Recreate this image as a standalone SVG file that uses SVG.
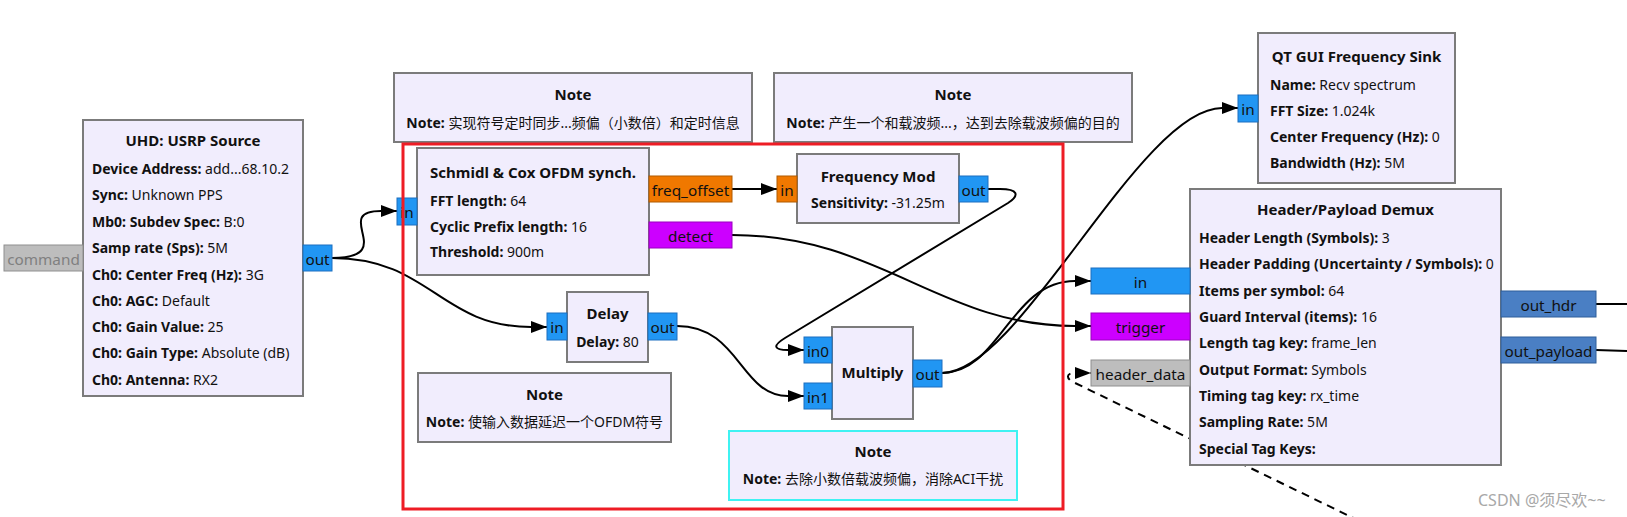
<svg xmlns="http://www.w3.org/2000/svg" width="1627" height="517" viewBox="0 0 1627 517">
<style>
.blk{fill:#F1EDFD;stroke:#7B7B7B;stroke-width:2}
.t{font-family:"Noto Sans","Noto Sans CJK SC",sans-serif;font-size:14px;fill:#111}
.ttl{font-weight:bold;font-size:15px;text-anchor:middle}
.mid{text-anchor:middle}
.b{font-weight:bold}
.pt{font-family:"Noto Sans",sans-serif;font-size:15.3px;fill:#111;text-anchor:middle}
.pc{fill:#2196F3;stroke:#1C6FC0;stroke-width:1}
.pf{fill:#F07800;stroke:#B05A00;stroke-width:1}
.pb{fill:#CC00FF;stroke:#9A00C0;stroke-width:1}
.pm{fill:#BDBDBD;stroke:#8F8F8F;stroke-width:1}
.ps{fill:#4A7FC4;stroke:#2F5F9A;stroke-width:1}
.wire{fill:none;stroke:#000;stroke-width:2}
.dash{stroke-dasharray:8,6}
</style>
<defs>
<marker id="arr" markerWidth="17" markerHeight="12" refX="16" refY="6" orient="auto" markerUnits="userSpaceOnUse">
<path d="M0,0 L16,6 L0,12 z" fill="#000" stroke="none"/>
</marker>
</defs>

<g id="connectors">
<path class="wire" d="M332,258 C400,258 330,211 381,211 L397,211" marker-end="url(#arr)"/>
<path class="wire" d="M332,258 C430,258 440,327 531,327 L547,327" marker-end="url(#arr)"/>
<path class="wire" d="M732,189 L777,189" marker-end="url(#arr)"/>
<path class="wire" d="M732,235 C880,235 940,326 1075,326 L1091,326" marker-end="url(#arr)"/>
<path class="wire" d="M988,189 L1000,189 C1018,189 1020,195 1008,203 L785,338 C772,346 774,350 788,350 L804,350" marker-end="url(#arr)"/>
<path class="wire" d="M677,326 C740,326 740,396 788,396 L804,396" marker-end="url(#arr)"/>
<path class="wire" d="M942,373 C1000,373 1010,281 1075,281 L1091,281" marker-end="url(#arr)"/>
<path class="wire" d="M942,373 C1020,373 1140,108 1222,108 L1238,108" marker-end="url(#arr)"/>
<path class="wire dash" d="M1372,527 L1071,381 C1066,377 1067,373 1075,373 L1091,373" marker-end="url(#arr)"/>
<path class="wire" d="M1596,304 L1627,304"/>
<path class="wire" d="M1596,350 L1627,351"/>
</g>

<g id="usrp_source">
<rect class="blk" x="83" y="120" width="220" height="276"/>
<text class="t ttl" x="193" y="146">UHD: USRP Source</text>
<text class="t" x="92" y="174"><tspan class="b">Device Address:</tspan> add...68.10.2</text>
<text class="t" x="92" y="200"><tspan class="b">Sync:</tspan> Unknown PPS</text>
<text class="t" x="92" y="227"><tspan class="b">Mb0: Subdev Spec:</tspan> B:0</text>
<text class="t" x="92" y="253"><tspan class="b">Samp rate (Sps):</tspan> 5M</text>
<text class="t" x="92" y="280"><tspan class="b">Ch0: Center Freq (Hz):</tspan> 3G</text>
<text class="t" x="92" y="306"><tspan class="b">Ch0: AGC:</tspan> Default</text>
<text class="t" x="92" y="332"><tspan class="b">Ch0: Gain Value:</tspan> 25</text>
<text class="t" x="92" y="358"><tspan class="b">Ch0: Gain Type:</tspan> Absolute (dB)</text>
<text class="t" x="92" y="385"><tspan class="b">Ch0: Antenna:</tspan> RX2</text>
<rect class="pm" x="4" y="245" width="79" height="26"/>
<text class="pt" x="43.5" y="265" style="fill:#808080">command</text>
<rect class="pc" x="303" y="245" width="29" height="26"/>
<text class="pt" x="317.5" y="265">out</text>
</g>

<g id="note_sync">
<rect class="blk" x="394" y="73" width="358" height="69"/>
<text class="t ttl" x="573" y="100">Note</text>
<text class="t mid" x="573" y="128"><tspan class="b">Note:</tspan> 实现符号定时同步...频偏（小数倍）和定时信息</text>
</g>

<g id="note_freqmod">
<rect class="blk" x="774" y="73" width="358" height="69"/>
<text class="t ttl" x="953" y="100">Note</text>
<text class="t mid" x="953" y="128"><tspan class="b">Note:</tspan> 产生一个和载波频...，达到去除载波频偏的目的</text>
</g>

<g id="schmidl_cox">
<rect class="blk" x="417" y="148" width="232" height="127"/>
<text class="t ttl" x="533" y="178">Schmidl &amp; Cox OFDM synch.</text>
<text class="t" x="430" y="206"><tspan class="b">FFT length:</tspan> 64</text>
<text class="t" x="430" y="232"><tspan class="b">Cyclic Prefix length:</tspan> 16</text>
<text class="t" x="430" y="257"><tspan class="b">Threshold:</tspan> 900m</text>
<rect class="pc" x="397" y="198" width="20" height="27"/>
<text class="pt" x="407" y="218">in</text>
<rect class="pf" x="649" y="176" width="83" height="26"/>
<text class="pt" x="690.5" y="196">freq_offset</text>
<rect class="pb" x="649" y="222" width="83" height="26"/>
<text class="pt" x="690.5" y="242">detect</text>
</g>

<g id="frequency_mod">
<rect class="blk" x="797" y="154" width="162" height="69"/>
<text class="t ttl" x="878" y="182">Frequency Mod</text>
<text class="t mid" x="878" y="208"><tspan class="b">Sensitivity:</tspan> -31.25m</text>
<rect class="pf" x="777" y="176" width="20" height="26"/>
<text class="pt" x="787" y="196">in</text>
<rect class="pc" x="959" y="176" width="29" height="26"/>
<text class="pt" x="973.5" y="196">out</text>
</g>

<g id="delay">
<rect class="blk" x="567" y="292" width="81" height="70"/>
<text class="t ttl" x="607.5" y="319">Delay</text>
<text class="t mid" x="607.5" y="347"><tspan class="b">Delay:</tspan> 80</text>
<rect class="pc" x="547" y="313" width="20" height="27"/>
<text class="pt" x="557" y="333">in</text>
<rect class="pc" x="648" y="313" width="29" height="27"/>
<text class="pt" x="662.5" y="333">out</text>
</g>

<g id="note_delay">
<rect class="blk" x="418" y="373" width="253" height="69"/>
<text class="t ttl" x="544.5" y="400">Note</text>
<text class="t mid" x="544.5" y="427"><tspan class="b">Note:</tspan> 使输入数据延迟一个OFDM符号</text>
</g>

<g id="multiply">
<rect class="blk" x="832" y="327" width="81" height="92"/>
<text class="t ttl" x="872.5" y="378">Multiply</text>
<rect class="pc" x="804" y="337" width="28" height="26"/>
<text class="pt" x="818" y="357">in0</text>
<rect class="pc" x="804" y="383" width="28" height="26"/>
<text class="pt" x="818" y="403">in1</text>
<rect class="pc" x="913" y="360" width="29" height="27"/>
<text class="pt" x="927.5" y="380">out</text>
</g>

<g id="note_multiply">
<rect class="blk" x="729" y="431" width="288" height="69" style="stroke:#3FF2F2"/>
<text class="t ttl" x="873" y="457">Note</text>
<text class="t mid" x="873" y="484"><tspan class="b">Note:</tspan> 去除小数倍载波频偏，消除ACI干扰</text>
</g>

<g id="qt_freq_sink">
<rect class="blk" x="1258" y="33" width="197" height="150"/>
<text class="t ttl" x="1356.5" y="62">QT GUI Frequency Sink</text>
<text class="t" x="1270" y="90"><tspan class="b">Name:</tspan> Recv spectrum</text>
<text class="t" x="1270" y="116"><tspan class="b">FFT Size:</tspan> 1.024k</text>
<text class="t" x="1270" y="142"><tspan class="b">Center Frequency (Hz):</tspan> 0</text>
<text class="t" x="1270" y="168"><tspan class="b">Bandwidth (Hz):</tspan> 5M</text>
<rect class="pc" x="1238" y="95" width="20" height="27"/>
<text class="pt" x="1248" y="115">in</text>
</g>

<g id="header_payload_demux">
<rect class="blk" x="1190" y="189" width="311" height="276"/>
<text class="t ttl" x="1345.5" y="215">Header/Payload Demux</text>
<text class="t" x="1199" y="243"><tspan class="b">Header Length (Symbols):</tspan> 3</text>
<text class="t" x="1199" y="269"><tspan class="b">Header Padding (Uncertainty / Symbols):</tspan> 0</text>
<text class="t" x="1199" y="296"><tspan class="b">Items per symbol:</tspan> 64</text>
<text class="t" x="1199" y="322"><tspan class="b">Guard Interval (items):</tspan> 16</text>
<text class="t" x="1199" y="348"><tspan class="b">Length tag key:</tspan> frame_len</text>
<text class="t" x="1199" y="375"><tspan class="b">Output Format:</tspan> Symbols</text>
<text class="t" x="1199" y="401"><tspan class="b">Timing tag key:</tspan> rx_time</text>
<text class="t" x="1199" y="427"><tspan class="b">Sampling Rate:</tspan> 5M</text>
<text class="t" x="1199" y="454"><tspan class="b">Special Tag Keys:</tspan></text>
<rect class="pc" x="1091" y="268" width="99" height="26"/>
<text class="pt" x="1140.5" y="288">in</text>
<rect class="pb" x="1091" y="313" width="99" height="27"/>
<text class="pt" x="1140.5" y="333">trigger</text>
<rect class="pm" x="1091" y="360" width="99" height="26"/>
<text class="pt" x="1140.5" y="380">header_data</text>
<rect class="ps" x="1501" y="291" width="95" height="26"/>
<text class="pt" x="1548.5" y="311">out_hdr</text>
<rect class="ps" x="1501" y="337" width="95" height="26"/>
<text class="pt" x="1548.5" y="357">out_payload</text>
</g>

<g id="highlight">
<rect x="403" y="144" width="660" height="365" fill="none" stroke="#EE1C25" stroke-width="3"/>
</g>

<text x="1478" y="506" style="font-family:'Noto Sans','Noto Sans CJK SC',sans-serif;font-size:16px;fill:#A8A8A8">CSDN @须尽欢~~</text>
</svg>
